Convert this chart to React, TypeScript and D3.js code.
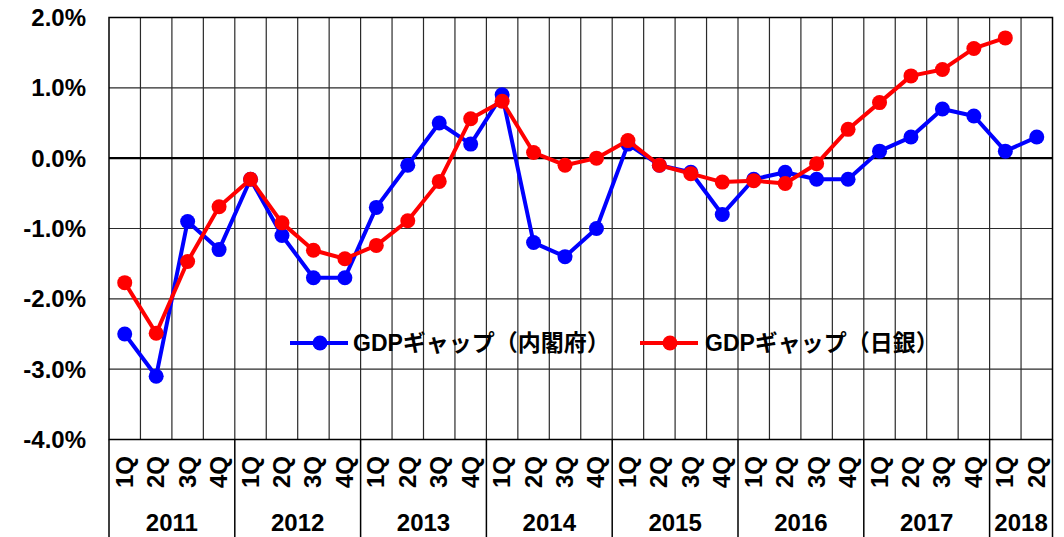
import * as d3 from 'd3';
import React from 'react';

// quarters 2011Q1 .. 2018Q2
const years = ['2011', '2012', '2013', '2014', '2015', '2016', '2017', '2018'];
const quartersPerYear = [4, 4, 4, 4, 4, 4, 4, 2];
const quarterNames = ['1Q', '2Q', '3Q', '4Q'];

const cabinetOffice = [
  -2.5, -3.1, -0.9, -1.3,
  -0.3, -1.1, -1.7, -1.7,
  -0.7, -0.1, 0.5, 0.2,
  0.9, -1.2, -1.4, -1.0,
  0.2, -0.1, -0.2, -0.8,
  -0.3, -0.2, -0.3, -0.3,
  0.1, 0.3, 0.7, 0.6,
  0.1, 0.3,
];

const bankOfJapan = [
  -1.77, -2.49, -1.47, -0.69,
  -0.3, -0.92, -1.31, -1.43,
  -1.24, -0.89, -0.33, 0.56,
  0.81, 0.08, -0.1, 0.0,
  0.25, -0.1, -0.22, -0.34,
  -0.32, -0.36, -0.08, 0.41,
  0.79, 1.17, 1.26, 1.56,
  1.71,
];

const yTicks = [2, 1, 0, -1, -2, -3, -4];

const seriesNames = ['GDPギャップ（内閣府）', 'GDPギャップ（日銀）'];

const W = 1064;
const H = 537;
const left = 109;
const right = 1052.5;
const top = 17.5;
const bottom = 439.5;

const FONT = '"Liberation Sans", Arial, "Noto Sans CJK JP", sans-serif';

export default function App() {
  const labels: { year: string; q: string; idx: number }[] = [];
  years.forEach((y, yi) => {
    for (let q = 0; q < quartersPerYear[yi]; q++) labels.push({ year: y, q: quarterNames[q], idx: labels.length });
  });
  const n = labels.length;

  const x = d3.scaleBand<number>().domain(d3.range(n)).range([left, right]);
  const y = d3.scaleLinear().domain([-4, 2]).range([bottom, top]);
  const cx = (i: number) => (x(i) as number) + x.bandwidth() / 2;

  const line = d3.line<number>().x((_, i) => cx(i)).y((d) => y(d));

  // year boundaries
  const yearStarts: number[] = [];
  let acc = 0;
  quartersPerYear.forEach((c) => { yearStarts.push(acc); acc += c; });

  const series = [
    { data: cabinetOffice, color: '#0000ff', name: seriesNames[0], lx: 290, tx: 353 },
    { data: bankOfJapan, color: '#ff0000', name: seriesNames[1], lx: 640, tx: 705 },
  ];
  const legendY = 343;

  return (
    <svg width={W} height={H} style={{ position: 'absolute', left: 0, top: 0, background: '#fff' }} fontFamily={FONT}>
      <rect width={W} height={H} fill="#fff" />
      {/* vertical grid */}
      {d3.range(1, n).map((i) => (
        <line key={'v' + i} x1={x(i)} x2={x(i)} y1={top} y2={bottom} stroke="#2a2a2a" strokeWidth={1.2} />
      ))}
      {/* horizontal grid */}
      {yTicks.map((t) => (
        <line key={'h' + t} x1={left} x2={right} y1={y(t)} y2={y(t)} stroke={t === 0 ? '#000' : '#2a2a2a'} strokeWidth={t === 0 ? 2.2 : 1.2} />
      ))}
      <rect x={left} y={top} width={right - left} height={bottom - top} fill="none" stroke="#000" strokeWidth={1.5} />

      {/* category axis box */}
      {yearStarts.concat([n]).map((s) => {
        const xx = s === n ? right : (x(s) as number);
        return <line key={'yb' + s} x1={xx} x2={xx} y1={bottom} y2={H} stroke="#000" strokeWidth={1.5} />;
      })}
      {labels.map((l) => (
        <text key={'q' + l.idx} transform={`translate(${cx(l.idx) + 8},472) rotate(-90)`} textAnchor="middle" fontSize={24} fontWeight="bold">
          {l.q}
        </text>
      ))}
      {years.map((yr, yi) => {
        const s = yearStarts[yi];
        const e = s + quartersPerYear[yi];
        const mx = ((x(s) as number) + (e === n ? right : (x(e) as number))) / 2;
        return (
          <text key={'y' + yr} x={mx} y={531} textAnchor="middle" fontSize={24} fontWeight="bold">{yr}</text>
        );
      })}

      {/* y tick labels */}
      {yTicks.map((t) => (
        <text key={'t' + t} x={86} y={y(t) + 8.5} textAnchor="end" fontSize={24} fontWeight="bold">
          {t.toFixed(1) + '%'}
        </text>
      ))}

      {/* series */}
      {series.map((s) => (
        <g key={s.name}>
          <path d={line(s.data) || ''} fill="none" stroke={s.color} strokeWidth={4} strokeLinejoin="round" />
          {s.data.map((d, i) => (
            <circle key={i} cx={cx(i)} cy={y(d)} r={7.5} fill={s.color} />
          ))}
        </g>
      ))}

      {/* legend */}
      {series.map((s) => (
        <g key={'lg' + s.name}>
          <line x1={s.lx} x2={s.lx + 58} y1={legendY} y2={legendY} stroke={s.color} strokeWidth={4} />
          <circle cx={s.lx + 30} cy={legendY} r={7.5} fill={s.color} />
          <text x={s.tx} y={legendY + 8} fontSize={23} fontWeight="bold">{s.name}</text>
        </g>
      ))}
    </svg>
  );
}
